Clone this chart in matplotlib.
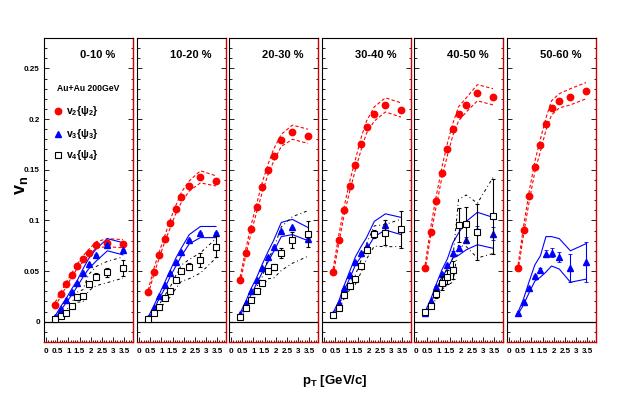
import matplotlib
matplotlib.use("Agg")
import matplotlib.pyplot as plt
from matplotlib.ticker import MultipleLocator, FixedLocator
import numpy as np

plt.rcParams['font.family'] = ['Liberation Sans', 'DejaVu Sans']
plt.rcParams['mathtext.fontset'] = 'custom'
plt.rcParams['mathtext.rm'] = 'Liberation Sans:bold'
plt.rcParams['mathtext.bf'] = 'Liberation Sans:bold'
plt.rcParams['mathtext.it'] = 'Liberation Sans:bold'
plt.rcParams['mathtext.default'] = 'bf'

centralities = ["0-10 %", "10-20 %", "20-30 %", "30-40 %", "40-50 %", "50-60 %"]
pt = [0.4, 0.65, 0.9, 1.15, 1.4, 1.65, 1.9, 2.25, 2.75, 3.45]
xtick_labels = ["0", "0.5", "1", "1.5", "2", "2.5", "3", "3.5"]
ytick_labels = ["0", "0.05", "0.1", "0.15", "0.2", "0.25"]

v2 = [
    [0.017, 0.027, 0.037, 0.046, 0.055, 0.062, 0.068, 0.076, 0.078, 0.077],
    [0.029, 0.049, 0.066, 0.082, 0.097, 0.111, 0.123, 0.134, 0.143, 0.139],
    [0.041, 0.068, 0.092, 0.113, 0.133, 0.150, 0.164, 0.179, 0.187, 0.183],
    [0.049, 0.081, 0.110, 0.134, 0.155, 0.175, 0.192, 0.205, 0.214, 0.209],
    [0.053, 0.089, 0.119, 0.147, 0.170, 0.190, 0.205, 0.214, 0.226, 0.222],
    [0.053, 0.091, 0.124, 0.153, 0.174, 0.195, 0.211, 0.218, 0.222, 0.228],
]
v2_sys = [
    [0.002, 0.002, 0.002, 0.002, 0.002, 0.003, 0.003, 0.003, 0.004, 0.004],
    [0.002, 0.003, 0.003, 0.003, 0.004, 0.004, 0.005, 0.005, 0.006, 0.005],
    [0.003, 0.003, 0.004, 0.004, 0.005, 0.005, 0.006, 0.006, 0.007, 0.007],
    [0.003, 0.004, 0.004, 0.005, 0.005, 0.006, 0.006, 0.007, 0.007, 0.007],
    [0.003, 0.004, 0.005, 0.005, 0.006, 0.006, 0.007, 0.007, 0.008, 0.008],
    [0.003, 0.004, 0.005, 0.005, 0.006, 0.006, 0.007, 0.007, 0.008, 0.008],
]

v3 = [
    [0.0046, 0.013, 0.021, 0.0295, 0.038, 0.048, 0.057, 0.066, 0.076, 0.071],
    [0.0035, 0.0135, 0.025, 0.036, 0.048, 0.059, 0.069, 0.081, 0.088, 0.088],
    [0.0075, 0.018, 0.030, 0.041, 0.053, 0.064, 0.074, 0.090, 0.093, 0.082],
    [0.008, 0.018, 0.033, 0.046, 0.059, 0.068, 0.075, 0.088, 0.0955, 0.092],
    [0.009, 0.020, 0.034, 0.047, 0.056, 0.068, 0.0725, 0.081, 0.090, 0.087],
    [0.0085, 0.019, 0.033, 0.045, 0.051, 0.067, 0.068, 0.064, 0.053, 0.059],
]
v3_stat = [
    [0.0004] * 10,
    [0.0004] * 10,
    [0.0005] * 10,
    [0.0005] * 10,
    [0.0006, 0.0006, 0.0008, 0.001, 0.001, 0.0015, 0.002, 0.003, 0.004, 0.006],
    [0.0006, 0.0008, 0.001, 0.0015, 0.002, 0.0035, 0.0045, 0.005, 0.0135, 0.02],
]
v3_sys_up = [
    [0.001, 0.002, 0.002, 0.003, 0.003, 0.004, 0.005, 0.006, 0.006, 0.007],
    [0.001, 0.002, 0.002, 0.003, 0.003, 0.004, 0.004, 0.005, 0.006, 0.006],
    [0.001, 0.002, 0.003, 0.003, 0.004, 0.005, 0.006, 0.008, 0.008, 0.011],
    [0.001, 0.002, 0.003, 0.004, 0.005, 0.006, 0.008, 0.011, 0.011, 0.011],
    [0.001, 0.002, 0.003, 0.004, 0.006, 0.010, 0.015, 0.018, 0.018, 0.016],
    [0.001, 0.004, 0.007, 0.011, 0.014, 0.017, 0.016, 0.018, 0.017, 0.018],
]
v3_sys_dn = [
    [0.001, 0.002, 0.002, 0.003, 0.003, 0.004, 0.005, 0.006, 0.006, 0.005],
    [0.001, 0.002, 0.002, 0.003, 0.003, 0.004, 0.004, 0.004, 0.005, 0.005],
    [0.001, 0.002, 0.003, 0.003, 0.004, 0.005, 0.005, 0.006, 0.007, 0.002],
    [0.001, 0.002, 0.002, 0.003, 0.003, 0.004, 0.004, 0.004, 0.005, 0.006],
    [0.001, 0.002, 0.003, 0.003, 0.004, 0.005, 0.007, 0.010, 0.014, 0.0145],
    [0.001, 0.002, 0.004, 0.005, 0.007, 0.018, 0.013, 0.012, 0.014, 0.017],
]

v4 = [
    [0.0026, 0.006, 0.009, 0.0157, 0.0243, 0.0256, 0.0374, 0.0446, 0.0486, 0.053],
    [0.0025, 0.0085, 0.015, 0.023, 0.0305, 0.041, 0.050, 0.0545, 0.061, 0.074],
    [0.0043, 0.014, 0.0217, 0.0308, 0.0387, 0.0505, 0.0538, 0.0676, 0.0807, 0.0866],
    [0.0062, 0.014, 0.026, 0.0357, 0.042, 0.0554, 0.0709, 0.0866, 0.088, 0.0912],
    [0.0092, 0.0157, 0.027, 0.038, 0.044, 0.0512, 0.0955, 0.0961, 0.0889, 0.1043],
]
v4_stat = [
    [0.0005, 0.0005, 0.0008, 0.001, 0.0012, 0.0015, 0.002, 0.003, 0.004, 0.008],
    [0.0005, 0.0006, 0.0008, 0.001, 0.0013, 0.0016, 0.002, 0.003, 0.0065, 0.0105],
    [0.0005, 0.0006, 0.0008, 0.001, 0.0013, 0.0016, 0.003, 0.005, 0.0075, 0.013],
    [0.0005, 0.0006, 0.0008, 0.001, 0.0013, 0.002, 0.003, 0.004, 0.0125, 0.018],
    [0.001, 0.002, 0.004, 0.007, 0.007, 0.009, 0.0172, 0.0172, 0.0276, 0.037],
]
v4_sys_up = [
    [0.001, 0.002, 0.002, 0.003, 0.005, 0.006, 0.009, 0.010, 0.011, 0.011],
    [0.001, 0.002, 0.002, 0.003, 0.004, 0.005, 0.006, 0.007, 0.007, 0.008],
    [0.001, 0.002, 0.003, 0.004, 0.006, 0.011, 0.018, 0.026, 0.023, 0.023],
    [0.001, 0.002, 0.002, 0.003, 0.004, 0.005, 0.006, 0.008, 0.008, 0.010],
    [0.001, 0.002, 0.004, 0.006, 0.008, 0.012, 0.025, 0.029, 0.028, 0.038],
]
v4_sys_dn = [
    [0.001, 0.002, 0.002, 0.003, 0.005, 0.006, 0.007, 0.009, 0.010, 0.010],
    [0.001, 0.002, 0.003, 0.004, 0.006, 0.008, 0.010, 0.012, 0.013, 0.011],
    [0.001, 0.002, 0.003, 0.004, 0.005, 0.008, 0.011, 0.017, 0.023, 0.022],
    [0.001, 0.002, 0.003, 0.004, 0.005, 0.007, 0.009, 0.012, 0.014, 0.017],
    [0.001, 0.002, 0.004, 0.006, 0.008, 0.012, 0.020, 0.022, 0.026, 0.037],
]

W, H = 623, 394
fig = plt.figure(figsize=(W / 100, H / 100), dpi=100)

left_px = [44, 137, 229, 322, 414, 507]
panel_w = 89
top_px, bot_px = 38, 342

RED = '#ff0000'
BLUE = '#0000ff'
FRAME_RED = '#cc0000'
x = np.array(pt)

for i, cen in enumerate(centralities):
    ax = fig.add_axes([left_px[i] / W, 1 - bot_px / H, panel_w / W, (bot_px - top_px) / H])
    ax.set_xlim(-0.1, 3.9)
    ax.set_ylim(-0.02, 0.28)
    ax.axhline(0, color='black', lw=0.9, zorder=1)

    # v2
    a2 = np.array(v2[i]); s2 = np.array(v2_sys[i])
    ax.plot(x, a2 + s2, ls=(0, (3, 2)), color=RED, lw=0.8)
    ax.plot(x, a2 - s2, ls=(0, (3, 2)), color=RED, lw=0.8)
    ax.plot(x, a2, 'o', color=RED, ms=4.6, mec=RED, zorder=5)

    # v3
    a3 = np.array(v3[i])
    ax.plot(x, a3 + np.array(v3_sys_up[i]), '-', color=BLUE, lw=0.8)
    ax.plot(x, a3 - np.array(v3_sys_dn[i]), '-', color=BLUE, lw=0.8)
    ax.errorbar(x, a3, yerr=v3_stat[i], fmt='^', color=BLUE, ms=5, mec=BLUE,
                elinewidth=0.8, capsize=1.5, capthick=0.6, zorder=5)

    # v4
    if i < len(v4):
        a4 = np.array(v4[i])
        ax.plot(x, a4 + np.array(v4_sys_up[i]), color='black', lw=0.7, ls=(0, (3, 3, 1, 3)))
        ax.plot(x, a4 - np.array(v4_sys_dn[i]), color='black', lw=0.7, ls=(0, (3, 3, 1, 3)))
        ax.errorbar(x, a4, yerr=v4_stat[i], fmt='s', color='black', ms=4.2,
                    mfc='white', mec='black', mew=0.8, elinewidth=0.8,
                    capsize=1.5, capthick=0.6, zorder=6)

    ax.text(0.6, 0.944, cen, transform=ax.transAxes, ha='center', va='center',
            fontsize=8, fontweight='bold')

    # frame
    for side in ('left', 'top'):
        ax.spines[side].set_color('black')
        ax.spines[side].set_linewidth(0.8)
    for side in ('right', 'bottom'):
        ax.spines[side].set_color(FRAME_RED)
        ax.spines[side].set_linewidth(1.0)

    ax.xaxis.set_major_locator(FixedLocator([0, 0.5, 1, 1.5, 2, 2.5, 3, 3.5]))
    ax.xaxis.set_minor_locator(MultipleLocator(0.1))
    ax.yaxis.set_major_locator(FixedLocator([0, 0.05, 0.1, 0.15, 0.2, 0.25]))
    ax.yaxis.set_minor_locator(MultipleLocator(0.01))
    ax.tick_params(axis='both', which='both', direction='in', width=0.6, color='black')
    ax.tick_params(axis='both', which='major', length=3.5)
    ax.tick_params(axis='both', which='minor', length=1.8)
    ax.tick_params(axis='x', which='both', top=False, bottom=True, pad=4)
    ax.tick_params(axis='y', which='both', left=True, right=True, pad=3)
    ax.set_xticklabels(xtick_labels, fontsize=5.8, fontweight='bold')
    if i == 0:
        ax.set_yticklabels(ytick_labels, fontsize=5.8, fontweight='bold')
        ax.text(0.5, 0.835, "Au+Au 200GeV", transform=ax.transAxes, ha='center',
                va='center', fontsize=6.2, fontweight='bold')
        lx = (58.3 - 44) / panel_w
        tx = (66.5 - 44) / panel_w
        ys = [(bot_px - 111) / (bot_px - top_px), (bot_px - 134) / (bot_px - top_px),
              (bot_px - 155) / (bot_px - top_px)]
        ax.plot([lx], [ys[0]], 'o', color=RED, ms=4.6, transform=ax.transAxes)
        ax.plot([lx], [ys[1]], '^', color=BLUE, ms=5, transform=ax.transAxes)
        ax.plot([lx], [ys[2]], 's', mfc='white', mec='black', mew=0.8, ms=4.2,
                transform=ax.transAxes)
        labels = [r'v$_2${ψ$_2$}', r'v$_3${ψ$_3$}', r'v$_4${ψ$_4$}']
        for yy, lab in zip(ys, labels):
            ax.text(tx, yy, lab, transform=ax.transAxes, ha='left', va='center',
                    fontsize=7.5, fontweight='bold')
    else:
        ax.set_yticklabels([])

fig.text(22 / W, 1 - 185 / H, r'v$_n$', rotation=90, ha='center', va='center',
         fontsize=13, fontweight='bold')
fig.text(335 / W, 1 - 381 / H, r'p$_T$ [GeV/c]', ha='center', va='center',
         fontsize=9.5, fontweight='bold')

fig.savefig('out.png', dpi=100)
